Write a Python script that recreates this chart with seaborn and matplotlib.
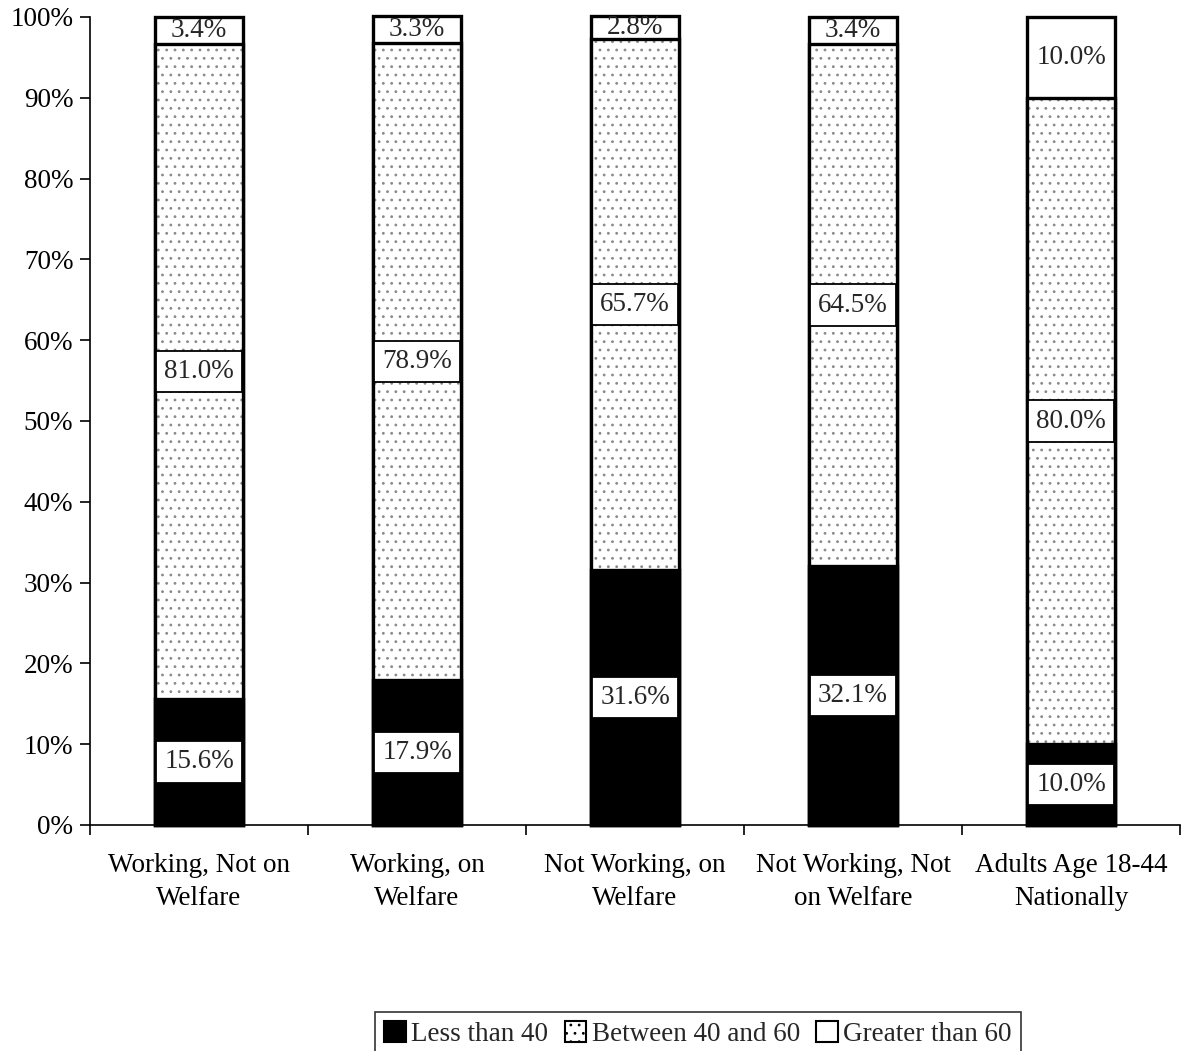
import matplotlib
matplotlib.use("Agg")
import matplotlib.pyplot as plt
from matplotlib.patches import Patch
from matplotlib.ticker import FixedLocator, PercentFormatter
import seaborn as sns
import pandas as pd
import numpy as np

categories = ["Working, Not on\nWelfare", "Working, on\nWelfare", "Not Working, on\nWelfare",
              "Not Working, Not\non Welfare", "Adults Age 18-44\nNationally"]
less_than_40 = [15.6, 17.9, 31.6, 32.1, 10.0]
between_40_60 = [81.0, 78.9, 65.7, 64.5, 80.0]
greater_than_60 = [3.4, 3.3, 2.8, 3.4, 10.0]
series_names = ["Less than 40", "Between 40 and 60", "Greater than 60"]

sns.set_theme(style="white")
plt.rcParams["font.family"] = ["Liberation Serif", "DejaVu Serif"]
plt.rcParams["hatch.linewidth"] = 0.8

df = pd.DataFrame({
    "cat": categories,
    "low": less_than_40,
    "mid": between_40_60,
    "high": greater_than_60,
})
df["cum_mid"] = df["low"] + df["mid"]
df["cum_high"] = df["cum_mid"] + df["high"]

fig = plt.figure(figsize=(11.89, 10.51), dpi=100)
ax = fig.add_axes([90 / 1189, 1 - 825 / 1051, (1180 - 90) / 1189, (825 - 17) / 1051])

bw = 0.4
edge_lw = 2.4
# top segment (white) drawn as full stack
sns.barplot(data=df, x="cat", y="cum_high", color="white", edgecolor="black",
            linewidth=edge_lw, width=bw, saturation=1, ax=ax, errorbar=None)
# stippled middle segment
sns.barplot(data=df, x="cat", y="cum_mid", color="white", edgecolor="#8a8a8a",
            linewidth=0, hatch="..", width=bw, saturation=1, ax=ax, errorbar=None)
sns.barplot(data=df, x="cat", y="cum_mid", fill=False, edgecolor="black",
            linewidth=edge_lw, width=bw, ax=ax, errorbar=None)
# solid bottom segment
sns.barplot(data=df, x="cat", y="low", color="black", edgecolor="black",
            linewidth=edge_lw, width=bw, saturation=1, ax=ax, errorbar=None)
for p in ax.patches:
    p.set_clip_on(False)

fs = 19.5
box = dict(boxstyle="square,pad=0.3", facecolor="white", edgecolor="black", linewidth=1.3)
for i in range(len(categories)):
    lo, mi, hi = less_than_40[i], between_40_60[i], greater_than_60[i]
    ax.text(i, lo / 2, f"{lo:.1f}%", ha="center", va="center", fontsize=fs, bbox=box)
    ax.text(i, lo + mi / 2, f"{mi:.1f}%", ha="center", va="center", fontsize=fs, bbox=box)
    ax.text(i, lo + mi + hi / 2, f"{hi:.1f}%", ha="center", va="center", fontsize=fs)

ax.set_xlim(-0.5, len(categories) - 0.5)
ax.set_ylim(0, 100)
ax.yaxis.set_major_locator(FixedLocator(np.arange(0, 101, 10)))
ax.yaxis.set_major_formatter(PercentFormatter(decimals=0))
ax.set_xlabel("")
ax.set_ylabel("")
ax.set_xticks(range(len(categories)))
ax.set_xticklabels(categories, fontsize=fs, linespacing=1.45)
ax.set_xticks(np.arange(-0.5, len(categories), 1.0), minor=True)
ax.tick_params(axis="x", which="major", length=0, pad=20, bottom=True)
ax.tick_params(axis="x", which="minor", length=7, width=1.2, direction="out",
               color="black", bottom=True)
ax.tick_params(axis="y", which="major", length=7, width=1.2, direction="out", color="black",
               labelsize=fs, pad=5, left=True)
ax.tick_params(axis="both", which="both", labelcolor="black")
for s in ["top", "right"]:
    ax.spines[s].set_visible(False)
for s in ["left", "bottom"]:
    ax.spines[s].set_color("black")
    ax.spines[s].set_linewidth(1.2)
ax.grid(False)

handles = [
    Patch(facecolor="black", edgecolor="black", linewidth=1.5),
    Patch(facecolor="white", edgecolor="black", hatch="..", linewidth=1.5),
    Patch(facecolor="white", edgecolor="black", linewidth=1.5),
]
leg = fig.legend(handles, series_names, loc="upper center", ncol=3,
                 bbox_to_anchor=(698 / 1189, 1 - 1012 / 1051), fontsize=fs,
                 frameon=True, fancybox=False, edgecolor="black",
                 handlelength=0.8, handleheight=0.8, handletextpad=0.2,
                 columnspacing=0.6, borderpad=0.35, borderaxespad=0)
leg.get_frame().set_linewidth(1.2)

fig.savefig("out.png", dpi=100, facecolor="white")
